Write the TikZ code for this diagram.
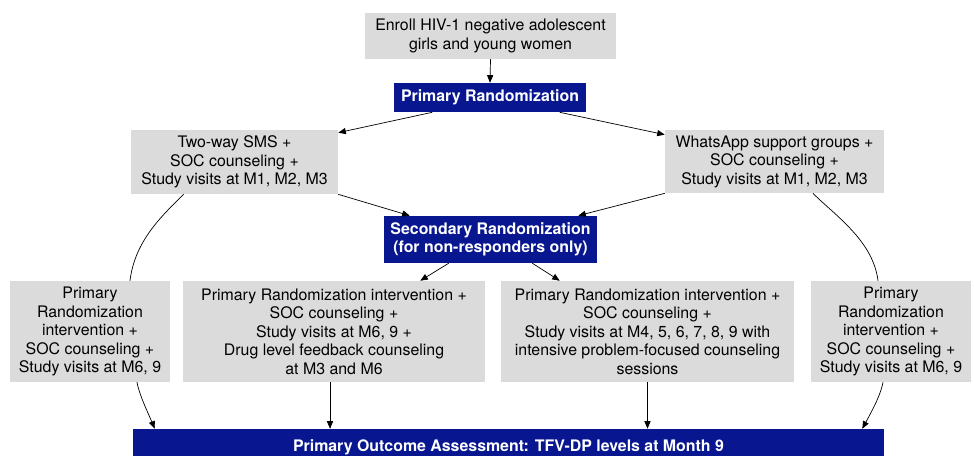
\documentclass[tikz,border=0pt]{standalone}
\usepackage{fontspec}
\setmainfont{TeX Gyre Heros}
\usetikzlibrary{arrows}
\definecolor{boxgray}{rgb}{0.86,0.86,0.86}
\definecolor{navyblue}{rgb}{0.03,0.09,0.56}

\begin{document}
\begin{tikzpicture}[line cap=round,line join=round,>=triangle 45,x=1pt,y=-1pt,line width=0.7pt,
  graybox/.style={fill=boxgray,inner sep=0pt,align=center,font=\fontsize{15.9}{18.5}\selectfont},
  bluebox/.style={fill=navyblue,text=white,inner sep=0pt,align=center,font=\bfseries\fontsize{15.9}{18.5}\selectfont}]
\useasboundingbox (0,0) rectangle (974,455);
\clip (0,0) rectangle (974,455);

\node[graybox,minimum width=251pt,minimum height=46pt] (enroll) at (490.5,36) {Enroll HIV-1 negative adolescent\\girls and young women};
\node[bluebox,minimum width=192pt,minimum height=29pt] (primrand) at (490,97.5) {Primary Randomization};
\node[graybox,minimum width=207pt,minimum height=64pt] (sms) at (234.5,162) {Two-way SMS +\\SOC counseling +\\Study visits at M1, M2, M3};
\node[graybox,minimum width=219pt,minimum height=63pt] (whatsapp) at (774.5,161.5) {WhatsApp support groups +\\SOC counseling +\\Study visits at M1, M2, M3};
\node[bluebox,minimum width=213pt,minimum height=47pt] (secrand) at (490.5,239.5) {Secondary Randomization\\(for non-responders only)};

\node[graybox,minimum width=160pt,minimum height=101pt] (armA) at (90,331.5) {Primary\\Randomization\\intervention +\\SOC counseling +\\Study visits at M6, 9};
\node[graybox,minimum width=302pt,minimum height=101pt] (armB) at (334,331.5) {Primary Randomization intervention +\\SOC counseling +\\Study visits at M6, 9 +\\Drug level feedback counseling\\at M3 and M6};
\node[graybox,minimum width=293pt,minimum height=101pt] (armC) at (647.5,331.5) {Primary Randomization intervention +\\SOC counseling +\\Study visits at M4, 5, 6, 7, 8, 9 with\\intensive problem-focused counseling\\sessions};
\node[graybox,minimum width=160pt,minimum height=101pt] (armD) at (891,331.5) {Primary\\Randomization\\intervention +\\SOC counseling +\\Study visits at M6, 9};

\node[bluebox,minimum width=751pt,minimum height=36pt] (outcome) at (508.5,447) {Primary Outcome Assessment: TFV-DP levels at Month 9};

\draw[->] (enroll.south) -- (primrand.north);
\draw[->] ([xshift=-58pt]primrand.south) -- ([yshift=-3pt]sms.north east);
\draw[->] ([xshift=70pt]primrand.south) -- ([yshift=-5pt]whatsapp.north west);
\draw[->] (sms.south east) -- ([xshift=26pt]secrand.north west);
\draw[->] (whatsapp.south west) -- ([xshift=-19pt]secrand.north east);
\draw[->] ([xshift=-42pt]secrand.south) -- ([xshift=-65pt]armB.north east);
\draw[->] ([xshift=42pt]secrand.south) -- ([xshift=59pt]armC.north west);

\draw ([xshift=-51pt]sms.south) .. controls +(-22,22) and +(5,-40) .. ([xshift=40pt]armA.north);
\draw ([xshift=38.5pt]whatsapp.south) .. controls +(22,22) and +(-5,-40) .. ([xshift=-13pt]armD.north);

\draw[->] ([xshift=47pt]armA.south) .. controls +(3,15) and +(-6,-15) .. ([xshift=22pt]outcome.north west);
\draw[->] ([xshift=-4pt]armB.south) -- ([xshift=-4pt]armB.south |- outcome.north);
\draw[->] (armC.south) -- (armC.south |- outcome.north);
\draw[->] ([xshift=-8pt]armD.south) .. controls +(-3,15) and +(8,-15) .. ([xshift=-22pt]outcome.north east);
\end{tikzpicture}
\end{document}
